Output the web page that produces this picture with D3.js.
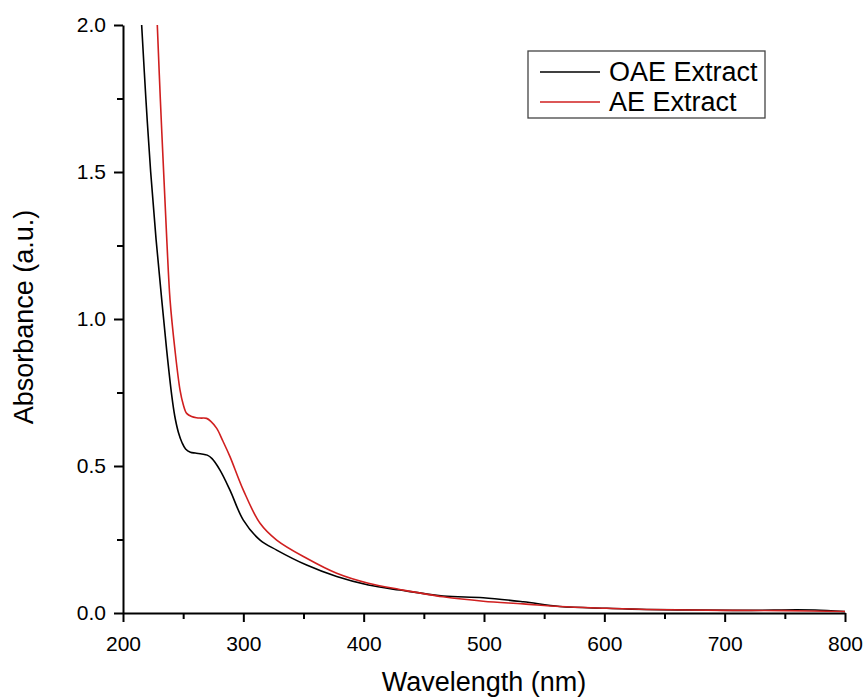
<!DOCTYPE html>
<html>
<head>
<meta charset="utf-8">
<script src="https://cdn.jsdelivr.net/npm/d3@7"></script>
<style>
  body { margin: 0; background: #fff; }
  svg { display: block; font-family: Arial, "Liberation Sans", sans-serif; }
</style>
</head>
<body>
<div id="chart"></div>
<script>
// wavelength (nm) / absorbance (a.u.)
const oaeWavelength = [214, 215.5, 219, 223, 227.5, 232.2, 236.3, 240.5, 243, 246, 249, 252, 256, 260, 265.4, 270, 274, 280.6, 288.9, 300, 313.9, 327.7, 352.6, 377.6, 403.9, 430, 466, 499.4, 532.7, 563, 602, 635, 680, 720, 760, 775, 800];
const oaeAbsorbance = [2.1, 2.0, 1.75, 1.5, 1.27, 1.065, 0.894, 0.74, 0.67, 0.615, 0.58, 0.558, 0.547, 0.544, 0.541, 0.537, 0.525, 0.486, 0.418, 0.316, 0.248, 0.214, 0.163, 0.124, 0.095, 0.078, 0.058, 0.052, 0.038, 0.022, 0.016, 0.012, 0.010, 0.009, 0.011, 0.010, 0.005];

const aeWavelength = [227.5, 228.5, 231, 234, 236.5, 239.1, 243.2, 247.4, 250, 252.9, 257, 261.2, 265, 269.5, 273, 277.9, 283, 288.9, 300, 313.9, 327.7, 352.6, 377.6, 403.9, 430, 466, 499.4, 532.7, 563, 602, 635, 700, 750, 800];
const aeAbsorbance = [2.1, 2.0, 1.75, 1.48, 1.26, 1.065, 0.894, 0.758, 0.71, 0.679, 0.668, 0.664, 0.663, 0.662, 0.652, 0.628, 0.585, 0.532, 0.418, 0.305, 0.248, 0.186, 0.135, 0.101, 0.080, 0.055, 0.040, 0.031, 0.022, 0.016, 0.012, 0.009, 0.008, 0.005];

const seriesNames = ['OAE Extract', 'AE Extract'];
const seriesColors = ['#000000', '#d01f1f'];

const xTicks = [200, 300, 400, 500, 600, 700, 800];
const yTicks = [0, 0.5, 1.0, 1.5, 2.0];

const width = 865, height = 697;
const margin = { top: 25, right: 20, bottom: 84, left: 123 };
const innerW = width - margin.left - margin.right;
const innerH = height - margin.top - margin.bottom;

const svg = d3.select('#chart').append('svg')
  .attr('width', width)
  .attr('height', height);

const g = svg.append('g')
  .attr('transform', `translate(${margin.left},${margin.top})`);

const x = d3.scaleLinear().domain([200, 800]).range([0, innerW]);
const y = d3.scaleLinear().domain([0, 2]).range([innerH, 0]);

svg.append('defs').append('clipPath').attr('id', 'plot-clip')
  .append('rect').attr('width', innerW).attr('height', innerH);

// curves
const series = [
  oaeWavelength.map((w, i) => [w, oaeAbsorbance[i]]),
  aeWavelength.map((w, i) => [w, aeAbsorbance[i]])
];
const line = d3.line()
  .x(d => x(d[0]))
  .y(d => y(d[1]))
  .curve(d3.curveCatmullRom.alpha(0.5));

g.append('g').attr('clip-path', 'url(#plot-clip)')
  .selectAll('path')
  .data(series)
  .enter()
  .append('path')
  .attr('d', line)
  .attr('fill', 'none')
  .attr('stroke', (d, i) => seriesColors[i])
  .attr('stroke-width', 1.6);

// axes: major ticks with labels, minor ticks halfway
function styleAxis(sel) {
  sel.select('.domain').attr('stroke-width', 2);
  sel.selectAll('.tick line').attr('stroke-width', 2);
  sel.selectAll('.tick text')
    .attr('font-size', 21)
    .attr('font-family', 'Arial, "Liberation Sans", sans-serif')
    .attr('fill', '#000');
}

g.append('g')
  .attr('transform', `translate(0,${innerH})`)
  .call(d3.axisBottom(x).tickValues(d3.range(250, 800, 100)).tickSize(6).tickFormat('').tickSizeOuter(0))
  .call(s => s.select('.domain').remove())
  .call(s => s.selectAll('.tick line').attr('stroke-width', 2));

g.append('g')
  .attr('transform', `translate(0,${innerH})`)
  .call(d3.axisBottom(x).tickValues(xTicks).tickSize(9).tickSizeOuter(0).tickPadding(14))
  .call(styleAxis);

g.append('g')
  .call(d3.axisLeft(y).tickValues([0.25, 0.75, 1.25, 1.75]).tickSize(6).tickFormat('').tickSizeOuter(0))
  .call(s => s.select('.domain').remove())
  .call(s => s.selectAll('.tick line').attr('stroke-width', 2));

g.append('g')
  .call(d3.axisLeft(y).tickValues(yTicks).tickSize(9).tickSizeOuter(0).tickPadding(8).tickFormat(d3.format('.1f')))
  .call(styleAxis);

// axis titles
svg.append('text')
  .attr('transform', `translate(33,${margin.top + innerH / 2 - 2}) rotate(-90)`)
  .attr('text-anchor', 'middle')
  .attr('font-size', 27)
  .text('Absorbance (a.u.)');

svg.append('text')
  .attr('x', margin.left + innerW / 2)
  .attr('y', 691)
  .attr('text-anchor', 'middle')
  .attr('font-size', 27)
  .text('Wavelength (nm)');

// legend
const legend = svg.append('g').attr('transform', 'translate(528,51)');
legend.append('rect')
  .attr('width', 237).attr('height', 67)
  .attr('fill', '#fff').attr('stroke', '#444').attr('stroke-width', 1.3);
const items = legend.selectAll('g.item')
  .data(seriesNames)
  .enter().append('g')
  .attr('transform', (d, i) => `translate(0,${21 + i * 30})`);
items.append('line')
  .attr('x1', 12).attr('x2', 72)
  .attr('stroke', (d, i) => seriesColors[i])
  .attr('stroke-width', 1.6);
items.append('text')
  .attr('x', 81).attr('dy', '0.35em')
  .attr('font-size', 27)
  .text(d => d);
</script>
</body>
</html>
